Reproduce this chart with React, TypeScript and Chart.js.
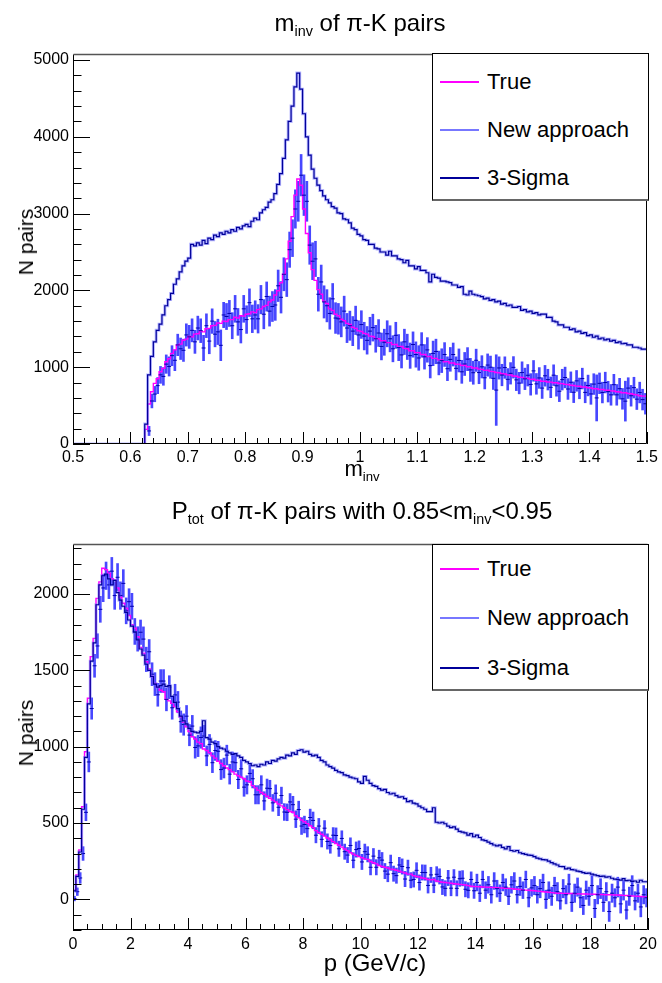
import React, { useEffect, useRef } from "react";
import { Chart, registerables } from "chart.js";

Chart.register(...registerables);

const FONT = '"Liberation Sans", Arial, Helvetica, sans-serif';

// ---------------- Top panel: m_inv (0.5 - 1.5, bin width 0.005) ----------------
const M_MIN = 0.5;
const M_MAX = 1.5;
const M_BIN = 0.005;
const M_Y_MIN = 0;
const M_Y_MAX = 5078;
const M_X_TICKS = [0.5, 0.6, 0.7, 0.8, 0.9, 1.0, 1.1, 1.2, 1.3, 1.4, 1.5];
const M_X_LABELS = ["0.5", "0.6", "0.7", "0.8", "0.9", "1", "1.1", "1.2", "1.3", "1.4", "1.5"];
const M_Y_TICKS = [0, 1000, 2000, 3000, 4000, 5000];
const M_Y_LABELS = ["0", "1000", "2000", "3000", "4000", "5000"];

const M_TRUE = [
  0, 0, 0, 0, 0, 0, 0, 0, 0, 0,
  0, 0, 0, 0, 0, 0, 0, 0, 0, 0,
  0, 0, 0, 0, 0, 0, 190, 520, 680, 790,
  850, 940, 985, 1070, 1110, 1180, 1225, 1290, 1300, 1350,
  1365, 1400, 1395, 1430, 1435, 1470, 1460, 1500, 1505, 1540,
  1545, 1575, 1570, 1600, 1595, 1620, 1620, 1650, 1640, 1670,
  1665, 1690, 1695, 1720, 1710, 1750, 1760, 1790, 1805, 1850,
  1875, 1940, 1995, 2100, 2210, 2410, 2640, 2960, 3240, 3450,
  3370, 3060, 2740, 2490, 2270, 2130, 2010, 1950, 1860, 1830,
  1760, 1740, 1690, 1670, 1625, 1605, 1570, 1555, 1520, 1505,
  1475, 1465, 1440, 1430, 1405, 1400, 1375, 1370, 1345, 1345,
  1320, 1320, 1295, 1295, 1270, 1270, 1245, 1240, 1215, 1215,
  1190, 1190, 1165, 1165, 1140, 1140, 1115, 1115, 1095, 1095,
  1070, 1072, 1055, 1055, 1038, 1040, 1022, 1025, 1005, 1008,
  990, 990, 975, 972, 958, 960, 945, 942, 930, 928,
  915, 912, 900, 898, 885, 883, 870, 868, 855, 856,
  842, 843, 830, 828, 818, 818, 808, 806, 798, 797,
  788, 786, 776, 774, 764, 762, 754, 752, 742, 742,
  732, 730, 720, 720, 710, 710, 702, 700, 692, 690,
  680, 678, 668, 668, 658, 654, 644, 640, 628, 624,
];

const M_NEW = [
  null, null, null, null, null, null, null, null, null, null,
  null, null, null, null, null, null, null, null, null, null,
  null, null, null, null, null, null, 170, 560, 650, 760,
  900, 880, 1040, 1010, 1150, 1090, 1290, 1240, 1220, 1420,
  1395, 1480, 1330, 1510, 1475, 1250, 1540, 1340, 1600, 1430,
  1460, 1285, 1680, 1660, 1700, 1540, 1760, 1590, 1490, 1760,
  1620, 1840, 1630, 1680, 1630, 1880, 1690, 1920, 1730, 1790,
  1810, 2060, 1910, 2210, 2140, 2530, 2680, 3060, 3160, 3500,
  3240, 3160, 2590, 2380, 2410, 1950, 2110, 1850, 1800, 1700,
  1890, 1640, 1630, 1590, 1730, 1510, 1540, 1470, 1610, 1420,
  1555, 1405, 1350, 1470, 1515, 1370, 1445, 1270, 1325, 1435,
  1370, 1240, 1415, 1255, 1160, 1330, 1265, 1150, 1295, 1165,
  1120, 1290, 1135, 1225, 1020, 1180, 1205, 1055, 1085, 1165,
  980, 1102, 1165, 985, 1088, 940, 1042, 1105, 965, 928,
  1090, 930, 1005, 862, 1028, 1000, 855, 702, 990, 898,
  995, 842, 920, 998, 835, 793, 930, 848, 895, 776,
  952, 783, 860, 728, 888, 838, 738, 896, 758, 687,
  838, 866, 716, 804, 674, 822, 724, 852, 672, 762,
  652, 780, 600, 790, 670, 800, 682, 640, 772, 640,
  720, 588, 558, 728, 628, 734, 584, 670, 578, 524,
];

const M_NEW_ERR = [
  0, 0, 0, 0, 0, 0, 0, 0, 0, 0,
  0, 0, 0, 0, 0, 0, 0, 0, 0, 0,
  0, 0, 0, 0, 0, 0, 60, 90, 100, 105,
  110, 115, 120, 125, 130, 135, 140, 140, 145, 145,
  150, 150, 150, 155, 155, 165, 155, 165, 160, 165,
  165, 200, 165, 170, 170, 170, 175, 175, 175, 175,
  180, 180, 180, 185, 185, 185, 190, 190, 195, 195,
  200, 205, 205, 215, 220, 230, 240, 250, 260, 270,
  265, 260, 250, 240, 230, 220, 220, 210, 210, 205,
  200, 200, 200, 195, 195, 190, 190, 190, 185, 185,
  180, 180, 180, 180, 175, 175, 175, 175, 170, 170,
  170, 170, 170, 170, 170, 165, 165, 165, 165, 165,
  160, 160, 160, 160, 160, 160, 160, 155, 155, 155,
  155, 155, 150, 150, 150, 150, 150, 150, 150, 150,
  145, 145, 145, 145, 145, 145, 145, 460, 145, 140,
  140, 140, 140, 140, 140, 140, 140, 140, 140, 140,
  135, 135, 135, 135, 135, 135, 135, 135, 135, 135,
  135, 135, 135, 135, 135, 135, 135, 135, 135, 135,
  135, 135, 300, 135, 135, 135, 135, 135, 135, 135,
  135, 135, 260, 135, 135, 135, 135, 135, 135, 135,
];

const M_SIGMA = [
  0, 0, 0, 0, 0, 0, 0, 0, 0, 0,
  0, 0, 0, 0, 0, 0, 0, 0, 0, 0,
  0, 0, 0, 0, 0, 0, 260, 900, 1140, 1330,
  1480, 1560, 1680, 1800, 1880, 1960, 2080, 2150, 2240, 2320,
  2380, 2420, 2600, 2580, 2620, 2590, 2650, 2610, 2680, 2660,
  2720, 2700, 2750, 2730, 2770, 2750, 2790, 2770, 2820, 2800,
  2840, 2860, 2830, 2900, 2940, 2920, 3010, 3050, 3080, 3150,
  3180, 3260, 3380, 3520, 3720, 3960, 4200, 4400, 4650, 4830,
  4620, 4300, 4000, 3760, 3580, 3460, 3370, 3300, 3230, 3180,
  3140, 3090, 3070, 3010, 3000, 2930, 2920, 2880, 2810, 2790,
  2730, 2710, 2660, 2650, 2600, 2600, 2550, 2540, 2500, 2500,
  2460, 2510, 2450, 2450, 2410, 2400, 2360, 2390, 2320, 2320,
  2280, 2310, 2260, 2260, 2230, 2110, 2210, 2170, 2160, 2120,
  2120, 2110, 2100, 2070, 2070, 2040, 2050, 1950, 1940, 1990,
  1950, 1940, 1930, 1920, 1890, 1900, 1870, 1880, 1850, 1860,
  1820, 1830, 1800, 1810, 1780, 1780, 1790, 1740, 1750, 1720,
  1730, 1700, 1710, 1680, 1690, 1690, 1650, 1650, 1600, 1590,
  1550, 1550, 1520, 1520, 1490, 1500, 1460, 1470, 1440, 1450,
  1410, 1420, 1390, 1405, 1370, 1380, 1355, 1365, 1340, 1350,
  1320, 1330, 1305, 1310, 1290, 1290, 1260, 1260, 1250, 1235,
];

// ---------------- Bottom panel: p (0 - 20 GeV/c, bin width 0.1) ----------------
const P_MIN = 0;
const P_MAX = 20;
const P_BIN = 0.1;
const P_Y_MIN = -201;
const P_Y_MAX = 2328;
const P_X_TICKS = [0, 2, 4, 6, 8, 10, 12, 14, 16, 18, 20];
const P_X_LABELS = ["0", "2", "4", "6", "8", "10", "12", "14", "16", "18", "20"];
const P_Y_TICKS = [0, 500, 1000, 1500, 2000];
const P_Y_LABELS = ["0", "500", "1000", "1500", "2000"];

const P_TRUE = [
  6, 60, 160, 323, 607, 967, 1317, 1590, 1710, 1972,
  2080, 2169, 2160, 2136, 2100, 2092, 2040, 1979, 1940, 1907,
  1860, 1800, 1776, 1720, 1650, 1612, 1557, 1510, 1460, 1415,
  1390, 1370, 1360, 1310, 1300, 1284, 1262, 1229, 1195, 1160,
  1131, 1100, 1065, 1050, 1030, 1020, 985, 975, 960, 940,
  925, 905, 890, 875, 860, 850, 835, 820, 810, 800,
  790, 775, 770, 745, 730, 715, 700, 688, 675, 662,
  650, 638, 625, 612, 600, 588, 575, 570, 548, 535,
  520, 508, 496, 482, 470, 450, 438, 426, 414, 402,
  390, 378, 366, 354, 342, 330, 318, 306, 296, 288,
  280, 272, 265, 262, 248, 240, 232, 222, 215, 210,
  205, 198, 195, 190, 185, 178, 172, 165, 165, 155,
  150, 146, 140, 136, 130, 128, 130, 120, 116, 112,
  110, 108, 105, 102, 100, 98, 96, 94, 90, 86,
  84, 83, 82, 81, 80, 79, 78, 77, 76, 75,
  74, 73, 72, 70, 68, 66, 64, 62, 60, 59,
  58, 56, 54, 52, 50, 48, 46, 44, 42, 40,
  40, 39, 39, 38, 38, 37, 36, 36, 35, 35,
  34, 34, 33, 32, 32, 31, 30, 30, 29, 28,
  28, 27, 26, 25, 24, 22, 21, 20, 18, 16,
];

const P_NEW = [
  5, 50, 140, 300, 570, 900, 1250, 1530, 1660, 1900,
  2040, 2120, 2060, 2150, 1990, 2110, 1990, 2070, 1890, 1950,
  1920, 1755, 1706, 1750, 1705, 1572, 1622, 1475, 1410, 1340,
  1430, 1430, 1310, 1390, 1255, 1339, 1292, 1164, 1145, 1200,
  1076, 1135, 995, 1005, 1060, 1070, 940, 1015, 895, 975,
  970, 850, 860, 945, 820, 900, 895, 785, 855, 735,
  750, 825, 790, 685, 685, 750, 645, 728, 725, 632,
  695, 603, 680, 572, 570, 638, 620, 525, 588, 480,
  490, 463, 536, 517, 420, 480, 393, 466, 379, 352,
  420, 418, 331, 399, 312, 290, 353, 256, 326, 333,
  245, 312, 295, 210, 283, 210, 272, 257, 185, 165,
  240, 168, 155, 225, 215, 133, 207, 125, 130, 190,
  110, 176, 175, 91, 160, 93, 164, 150, 81, 72,
  140, 73, 145, 72, 135, 138, 66, 59, 130, 56,
  110, 40, 130, 60, 95, 30, 120, 70, 40, 110,
  80, 20, 95, 120, 30, 85, 60, 130, 10, 75,
  90, 30, 70, 110, 0, 60, 20, 90, 50, -10,
  70, 30, 100, -20, 40, 80, 10, -40, 60, 20,
  90, -60, 30, 70, -20, 50, -80, 40, 10, 80,
  -30, 60, -70, 20, 90, -10, 40, -50, 30, 10,
];

const P_NEW_ERR = [
  15, 25, 35, 45, 55, 65, 70, 75, 80, 85,
  90, 90, 90, 90, 90, 90, 90, 90, 85, 85,
  85, 85, 80, 80, 80, 80, 80, 75, 75, 75,
  75, 75, 75, 75, 75, 70, 70, 70, 70, 70,
  70, 70, 70, 70, 70, 70, 65, 65, 65, 65,
  65, 65, 65, 65, 65, 65, 60, 60, 60, 60,
  60, 60, 60, 60, 60, 60, 60, 60, 55, 55,
  55, 55, 55, 55, 55, 55, 55, 55, 55, 55,
  55, 55, 55, 55, 50, 50, 50, 50, 50, 50,
  50, 50, 50, 50, 50, 50, 50, 50, 50, 50,
  50, 50, 50, 50, 50, 50, 50, 50, 50, 50,
  50, 50, 50, 50, 50, 50, 50, 50, 50, 50,
  50, 50, 50, 50, 50, 50, 50, 50, 50, 50,
  50, 50, 50, 50, 50, 50, 50, 50, 50, 50,
  55, 55, 55, 55, 55, 55, 55, 55, 55, 55,
  55, 55, 55, 55, 55, 60, 55, 55, 60, 55,
  60, 55, 60, 55, 60, 55, 60, 55, 60, 55,
  60, 60, 65, 60, 60, 60, 65, 60, 60, 60,
  65, 60, 60, 65, 60, 60, 65, 60, 60, 65,
  60, 65, 60, 60, 65, 60, 60, 65, 60, 60,
];

const P_SIGMA = [
  5, 55, 150, 310, 590, 930, 1280, 1560, 1680, 1930,
  2060, 2120, 2130, 2100, 2060, 2090, 2010, 1960, 1920, 1880,
  1830, 1790, 1750, 1700, 1640, 1600, 1540, 1500, 1460, 1410,
  1390, 1400, 1410, 1395, 1400, 1330, 1290, 1250, 1200, 1170,
  1150, 1120, 1100, 1095, 1090, 1100, 1170, 1060, 1050, 1030,
  1020, 1000, 990, 985, 970, 960, 950, 955, 940, 930,
  910, 900, 890, 875, 880, 870, 885, 880, 900, 890,
  910, 905, 920, 930, 925, 945, 940, 960, 950, 975,
  980, 965, 970, 950, 940, 945, 930, 910, 900, 880,
  870, 860, 845, 835, 830, 815, 810, 800, 795, 790,
  770, 760, 805, 780, 760, 745, 740, 725, 715, 720,
  700, 690, 695, 680, 670, 672, 660, 640, 645, 630,
  625, 610, 600, 590, 575, 575, 600, 505, 500, 505,
  495, 480, 470, 475, 460, 445, 440, 435, 420, 430,
  410, 420, 405, 390, 385, 375, 365, 356, 350, 355,
  340, 330, 345, 320, 315, 320, 305, 300, 295, 290,
  288, 280, 270, 265, 260, 258, 250, 240, 232, 225,
  215, 214, 200, 205, 195, 192, 185, 182, 175, 170,
  172, 165, 160, 155, 150, 152, 145, 148, 138, 132,
  130, 126, 135, 122, 125, 118, 120, 112, 125, 115,
];

const LEGEND_LABELS = ["True", "New approach", "3-Sigma"];
const COLOR_TRUE = "#ff00ff";
const COLOR_NEW_LEGEND = "#7777ff";
const COLOR_SIGMA = "#000099";

// ---------------- helpers ----------------
function stepData(vals: number[], x0: number, w: number) {
  const pts = vals.map((v, i) => ({ x: x0 + i * w, y: v }));
  pts.push({ x: x0 + vals.length * w, y: vals[vals.length - 1] });
  return pts;
}
function errData(vals: (number | null)[], errs: number[], x0: number, w: number) {
  const out: any[] = [];
  vals.forEach((v, i) => {
    if (v === null) return;
    out.push({ x: x0 + (i + 0.5) * w, y: [v - errs[i], v + errs[i]] });
  });
  return out;
}
function centerData(vals: (number | null)[], x0: number, w: number) {
  const out: any[] = [];
  vals.forEach((v, i) => {
    if (v === null) return;
    out.push({ x: x0 + (i + 0.5) * w, y: v });
  });
  return out;
}
function stepsBetween(min: number, max: number, step: number) {
  const out: number[] = [];
  const start = Math.ceil(min / step - 1e-9);
  const end = Math.floor(max / step + 1e-9);
  for (let k = start; k <= end; k++) out.push(k * step);
  return out;
}

const rootFrame = {
  id: "rootFrame",
  afterDatasetsDraw(chart: any, _a: any, opts: any) {
    const { ctx, chartArea: a, scales } = chart;
    const x = scales.x;
    const y = scales.y;
    ctx.save();
    ctx.strokeStyle = "#000";
    ctx.lineWidth = 1;
    ctx.beginPath();
    for (const v of stepsBetween(x.min, x.max, opts.xMinor)) {
      const px = Math.round(x.getPixelForValue(v)) + 0.5;
      const major = opts.xMajor.some((m: number) => Math.abs(m - v) < 1e-6);
      ctx.moveTo(px, a.bottom);
      ctx.lineTo(px, a.bottom - (major ? 12 : 6));
    }
    for (const v of stepsBetween(y.min, y.max, opts.yMinor)) {
      const py = Math.round(y.getPixelForValue(v)) + 0.5;
      const major = opts.yMajor.some((m: number) => Math.abs(m - v) < 1e-6);
      ctx.moveTo(a.left, py);
      ctx.lineTo(a.left + (major ? 17 : 8.5), py);
    }
    ctx.stroke();
    const l = Math.round(a.left) + 0.5;
    const r = Math.round(a.right) - 0.5;
    const t = Math.round(a.top) + 0.5;
    const b = Math.round(a.bottom) - 0.5;
    ctx.beginPath();
    ctx.moveTo(l, t);
    ctx.lineTo(l, b);
    ctx.lineTo(r, b);
    ctx.lineTo(r, t);
    ctx.stroke();
    ctx.strokeStyle = "#555";
    ctx.lineWidth = 1.5;
    ctx.beginPath();
    ctx.moveTo(l, t);
    ctx.lineTo(r, t);
    ctx.stroke();
    ctx.restore();
  },
};

type PanelSpec = {
  top: number;
  height: number;
  xMin: number;
  xMax: number;
  bin: number;
  yMin: number;
  yMax: number;
  xTicks: number[];
  xLabels: string[];
  yTicks: number[];
  yLabels: string[];
  xMinor: number;
  yMinor: number;
  truth: number[];
  newv: (number | null)[];
  newErr: number[];
  sigma: number[];
  xAxisH: number;
  xPad: number;
};

function Panel({ spec }: { spec: PanelSpec }) {
  const ref = useRef<HTMLCanvasElement | null>(null);
  useEffect(() => {
    if (!ref.current) return;
    const s = spec;
    const chart = new Chart(ref.current, {
      type: "line",
      data: {
        datasets: [
          {
            type: "bar",
            label: "New approach error",
            data: errData(s.newv, s.newErr, s.xMin, s.bin),
            backgroundColor: "rgba(0,0,255,0.72)",
            borderWidth: 0,
            barThickness: 2,
            grouped: false,
            order: 5,
          } as any,
          {
            type: "line",
            label: LEGEND_LABELS[0],
            data: stepData(s.truth, s.xMin, s.bin),
            borderColor: COLOR_TRUE,
            borderWidth: 1.4,
            stepped: "after",
            pointRadius: 0,
            fill: false,
            order: 4,
          } as any,
          {
            type: "scatter",
            label: LEGEND_LABELS[1],
            data: centerData(s.newv, s.xMin, s.bin),
            pointStyle: "line",
            pointRadius: 2,
            borderColor: "#0000aa",
            borderWidth: 1,
            showLine: false,
            order: 3,
          } as any,
          {
            type: "line",
            label: "3-Sigma halo",
            data: stepData(s.sigma, s.xMin, s.bin),
            borderColor: "rgba(110,110,255,0.5)",
            borderWidth: 3,
            stepped: "after",
            pointRadius: 0,
            fill: false,
            order: 2,
          } as any,
          {
            type: "line",
            label: LEGEND_LABELS[2],
            data: stepData(s.sigma, s.xMin, s.bin),
            borderColor: COLOR_SIGMA,
            borderWidth: 1.2,
            stepped: "after",
            pointRadius: 0,
            fill: false,
            order: 1,
          } as any,
        ],
      },
      options: {
        responsive: false,
        animation: false,
        events: [],
        layout: { padding: { left: 0, right: 14, top: 54, bottom: 0 } },
        plugins: {
          legend: { display: false },
          tooltip: { enabled: false },
          title: { display: false },
          rootFrame: { xMajor: s.xTicks, yMajor: s.yTicks, xMinor: s.xMinor, yMinor: s.yMinor },
        } as any,
        scales: {
          x: {
            type: "linear",
            min: s.xMin,
            max: s.xMax,
            offset: false,
            grid: { display: false, drawTicks: false, offset: false },
            border: { display: false },
            afterBuildTicks: (sc: any) => {
              sc.ticks = s.xTicks.map((v) => ({ value: v }));
            },
            afterFit: (sc: any) => {
              sc.height = s.xAxisH;
            },
            ticks: {
              autoSkip: false,
              maxRotation: 0,
              padding: s.xPad,
              color: "#000",
              font: { family: FONT, size: 16 },
              callback: (_v: any, i: number) => s.xLabels[i],
            },
          },
          y: {
            type: "linear",
            min: s.yMin,
            max: s.yMax,
            grid: { display: false, drawTicks: false },
            border: { display: false },
            afterBuildTicks: (sc: any) => {
              sc.ticks = s.yTicks.map((v) => ({ value: v }));
            },
            afterFit: (sc: any) => {
              sc.width = 73;
            },
            ticks: {
              autoSkip: false,
              padding: 4,
              color: "#000",
              font: { family: FONT, size: 16 },
              callback: (_v: any, i: number) => s.yLabels[i],
            },
          },
        },
      } as any,
      plugins: [rootFrame as any],
    });
    return () => chart.destroy();
  }, [spec]);
  return (
    <canvas
      ref={ref}
      width={662}
      height={spec.height}
      style={{ position: "absolute", left: 0, top: spec.top, width: 662, height: spec.height }}
    />
  );
}

const TOP_SPEC: PanelSpec = {
  top: 0,
  height: 490,
  xMin: M_MIN,
  xMax: M_MAX,
  bin: M_BIN,
  yMin: M_Y_MIN,
  yMax: M_Y_MAX,
  xTicks: M_X_TICKS,
  xLabels: M_X_LABELS,
  yTicks: M_Y_TICKS,
  yLabels: M_Y_LABELS,
  xMinor: 0.02,
  yMinor: 200,
  truth: M_TRUE,
  newv: M_NEW,
  newErr: M_NEW_ERR,
  sigma: M_SIGMA,
  xAxisH: 46,
  xPad: 4,
};

const BOTTOM_SPEC: PanelSpec = {
  top: 490,
  height: 493,
  xMin: P_MIN,
  xMax: P_MAX,
  bin: P_BIN,
  yMin: P_Y_MIN,
  yMax: P_Y_MAX,
  xTicks: P_X_TICKS,
  xLabels: P_X_LABELS,
  yTicks: P_Y_TICKS,
  yLabels: P_Y_LABELS,
  xMinor: 0.5,
  yMinor: 100,
  truth: P_TRUE,
  newv: P_NEW,
  newErr: P_NEW_ERR,
  sigma: P_SIGMA,
  xAxisH: 53,
  xPad: 5,
};

const Sub = ({ children }: { children: any }) => (
  <span style={{ fontSize: "0.6em", position: "relative", top: "0.38em" }}>{children}</span>
);

function Legend({ left, top, width, height, rows }: { left: number; top: number; width: number; height: number; rows: number[] }) {
  const colors = [COLOR_TRUE, COLOR_NEW_LEGEND, COLOR_SIGMA];
  return (
    <div
      style={{
        position: "absolute",
        left,
        top,
        width,
        height,
        boxSizing: "border-box",
        border: "1px solid #000",
        borderBottom: "2px solid #666",
        background: "#fff",
      }}
    >
      {LEGEND_LABELS.map((lab, i) => (
        <React.Fragment key={lab}>
          <div
            style={{
              position: "absolute",
              left: 7,
              top: rows[i] - 1,
              width: 39,
              height: 2,
              background: colors[i],
            }}
          />
          <div
            style={{
              position: "absolute",
              left: 54,
              top: rows[i] - 13,
              height: 26,
              lineHeight: "26px",
              fontSize: 22,
              whiteSpace: "nowrap",
              color: "#000",
            }}
          >
            {lab}
          </div>
        </React.Fragment>
      ))}
    </div>
  );
}

export default function App() {
  const textBase: React.CSSProperties = {
    position: "absolute",
    whiteSpace: "nowrap",
    color: "#000",
  };
  return (
    <div
      style={{
        position: "absolute",
        left: 0,
        top: 0,
        width: 662,
        height: 983,
        overflow: "hidden",
        background: "#fff",
        fontFamily: FONT,
      }}
    >
      <Panel spec={TOP_SPEC} />
      <Panel spec={BOTTOM_SPEC} />

      <div style={{ ...textBase, left: 360, top: 8, transform: "translateX(-50%)", fontSize: 24, lineHeight: "30px" }}>
        m<Sub>inv</Sub> of π-K pairs
      </div>
      <div style={{ ...textBase, left: 362, top: 496, transform: "translateX(-50%)", fontSize: 24, lineHeight: "30px" }}>
        P<Sub>tot</Sub> of π-K pairs with 0.85&lt;m<Sub>inv</Sub>&lt;0.95
      </div>

      <div style={{ ...textBase, left: 362, top: 456, transform: "translateX(-50%)", fontSize: 22, lineHeight: "26px" }}>
        m<Sub>inv</Sub>
      </div>
      <div style={{ ...textBase, left: 375, top: 949, transform: "translateX(-50%)", fontSize: 24, lineHeight: "28px" }}>
        p (GeV/c)
      </div>

      <div
        style={{
          ...textBase,
          left: 26,
          top: 242,
          transform: "translate(-50%, -50%) rotate(-90deg)",
          fontSize: 21,
          lineHeight: "26px",
        }}
      >
        N pairs
      </div>
      <div
        style={{
          ...textBase,
          left: 26,
          top: 733,
          transform: "translate(-50%, -50%) rotate(-90deg)",
          fontSize: 21,
          lineHeight: "26px",
        }}
      >
        N pairs
      </div>

      <Legend left={432} top={53} width={217} height={148} rows={[28, 76, 124]} />
      <Legend left={432} top={544} width={217} height={147} rows={[24, 73, 123]} />
    </div>
  );
}
